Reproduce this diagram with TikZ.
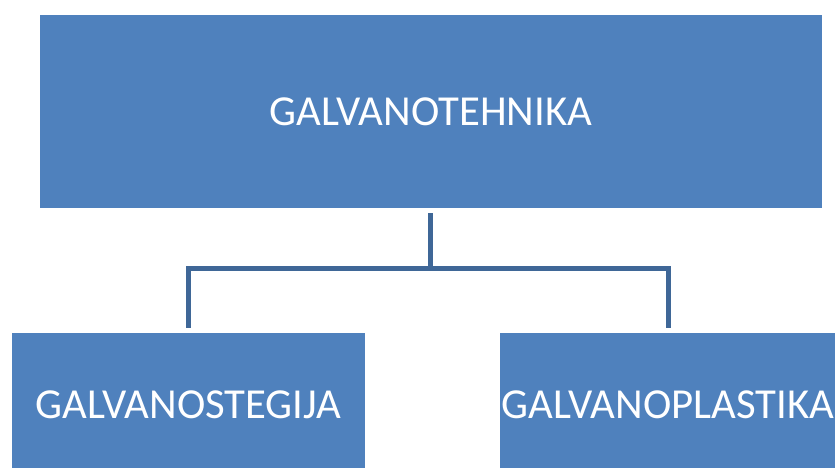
\documentclass[tikz,border=0pt]{standalone}
\usepackage{fontspec}
\setmainfont{Carlito}
\definecolor{boxblue}{HTML}{4F81BD}
\definecolor{linkblue}{HTML}{3F6797}

\begin{document}
\begin{tikzpicture}[x=0.03cm,y=-0.03cm]
      \tikzstyle{every node}+=[inner sep=0pt, outer sep=0pt]
      \tikzstyle{box}=[fill=boxblue, text=white, font=\fontsize{36.5}{42}\selectfont]
      \tikzstyle{link}=[draw=linkblue, line width=0.15cm, shorten <=0.15cm, shorten >=0.15cm]
      \useasboundingbox (0,0) rectangle (835,467);
      \begin{scope}
      \clip (0,0) rectangle (835,467);
      \node [box, minimum width=23.46cm, minimum height=5.79cm] (tehnika) at (431,111.5) {GALVANOTEHNIKA};
      \node [box, minimum width=10.59cm, minimum height=4.32cm] (stegija) at (188.5,405) {GALVANOSTEGIJA};
      \node [box, minimum width=10.08cm, minimum height=4.32cm] (plastika) at (668,405) {GALVANOPLASTIKA};
      \end{scope}
      \coordinate (split) at (430,268);
      \draw [link, shorten >=0pt] (tehnika.south -| split) -- (split);
      \draw [link, shorten <=0pt] (split) -| (stegija.north);
      \draw [link, shorten <=0pt] (split) -| (plastika.north);
    \end{tikzpicture}
\end{document}
